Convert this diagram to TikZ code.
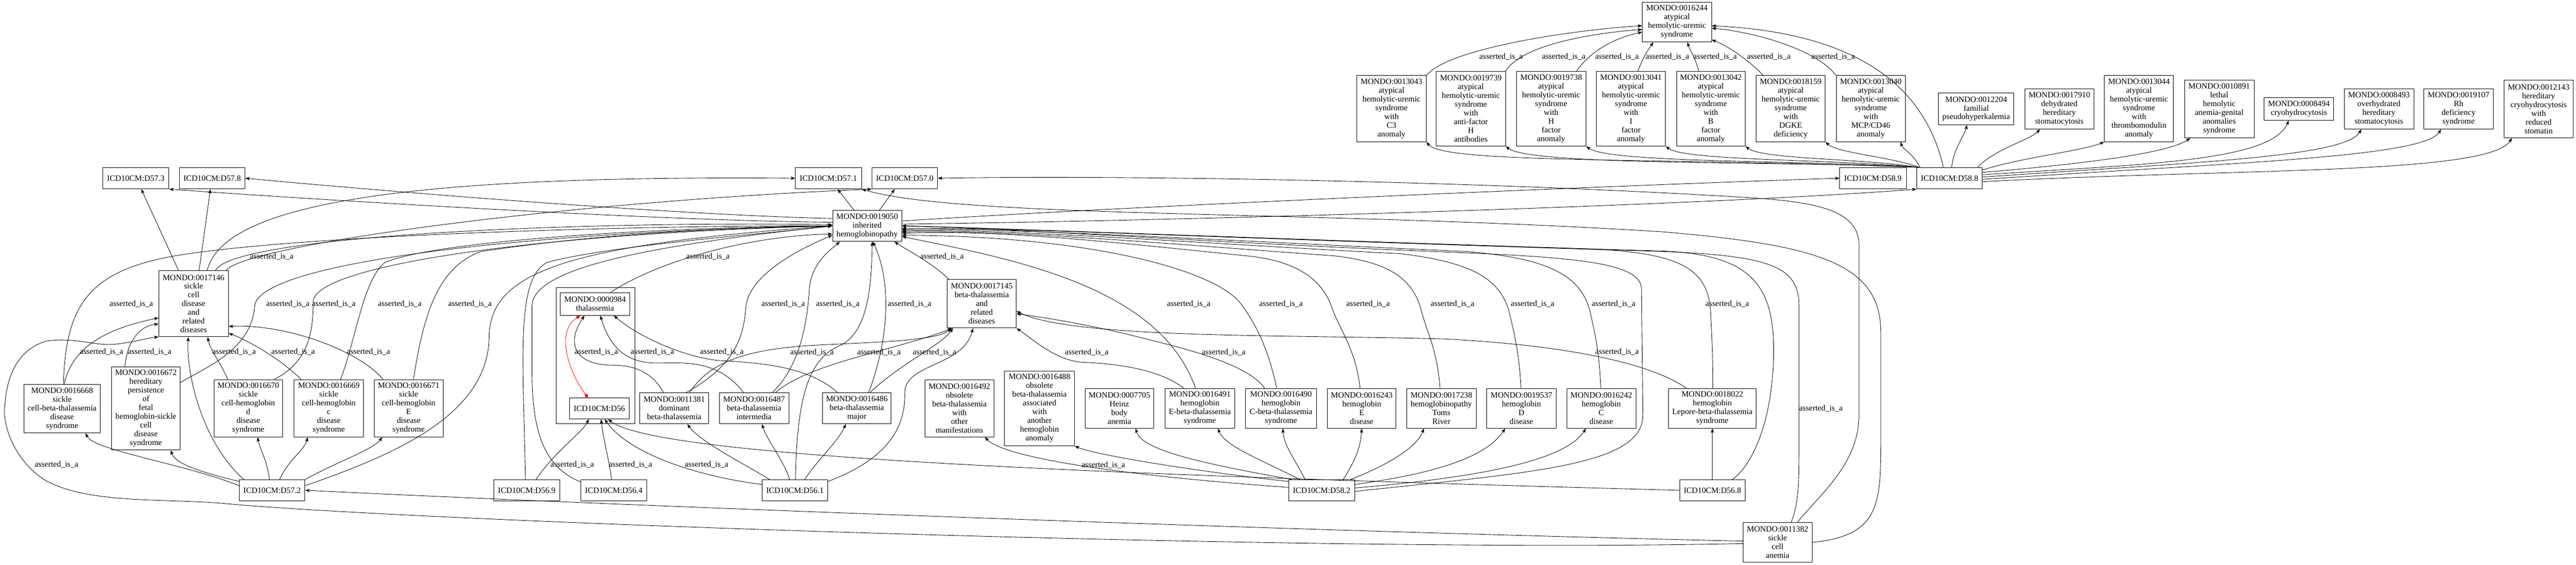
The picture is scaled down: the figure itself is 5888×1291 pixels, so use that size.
\documentclass[tikz,border=0pt]{standalone}
\usepackage{fontspec}
\setmainfont{Liberation Serif}
\usetikzlibrary{arrows.meta,calc}
\newcommand\fs{\fontsize{14}{15}\selectfont}
\newcommand\mynode[6]{\node[nd, minimum width=\fpeval{(#4-#2)*0.75}pt, minimum height=\fpeval{(#5-#3)*0.75}pt] (#1) at ({(#2+#4)/2},{(#3+#5)/2}) {#6};}
\tikzset{
  nd/.style={draw, line width=0.75pt, align=center, inner sep=0pt, font=\fs},
  e/.style={line width=0.75pt, -{Stealth[length=7.5pt,width=5.5pt,inset=1.5pt]}},
  redge/.style={draw=red, line width=0.75pt, {Diamond[length=9pt,width=6pt]}-{Diamond[length=9pt,width=6pt]}},
  lab/.style={font=\fs, inner sep=0pt}
}
\begin{document}
\begin{tikzpicture}[x=0.75pt,y=-0.75pt]
\fill[white] (0,0) rectangle (5888,1291);
\useasboundingbox (0,0) rectangle (5888,1291);
% ---------- nodes ----------
\mynode{m16244}{3754}{5}{3912}{96}{MONDO:0016244\\atypical\\hemolytic-uremic\\syndrome}
\mynode{m13043}{3101}{173}{3260}{324}{MONDO:0013043\\atypical\\hemolytic-uremic\\syndrome\\with\\C3\\anomaly}
\mynode{m19739}{3283}{163}{3441}{334}{MONDO:0019739\\atypical\\hemolytic-uremic\\syndrome\\with\\anti-factor\\H\\antibodies}
\mynode{m19738}{3466}{163}{3625}{334}{MONDO:0019738\\atypical\\hemolytic-uremic\\syndrome\\with\\H\\factor\\anomaly}
\mynode{m13041}{3649}{163}{3807}{334}{MONDO:0013041\\atypical\\hemolytic-uremic\\syndrome\\with\\I\\factor\\anomaly}
\mynode{m13042}{3832}{163}{3989}{334}{MONDO:0013042\\atypical\\hemolytic-uremic\\syndrome\\with\\B\\factor\\anomaly}
\mynode{m18159}{4014}{173}{4172}{324}{MONDO:0018159\\atypical\\hemolytic-uremic\\syndrome\\with\\DGKE\\deficiency}
\mynode{m13040}{4197}{173}{4355}{324}{MONDO:0013040\\atypical\\hemolytic-uremic\\syndrome\\with\\MCP/CD46\\anomaly}
\mynode{m12204}{4431}{213}{4603}{285}{MONDO:0012204\\familial\\pseudohyperkalemia}
\mynode{m17910}{4628}{203}{4786}{295}{MONDO:0017910\\dehydrated\\hereditary\\stomatocytosis}
\mynode{m13044}{4810}{173}{4968}{324}{MONDO:0013044\\atypical\\hemolytic-uremic\\syndrome\\with\\thrombomodulin\\anomaly}
\mynode{m10891}{4993}{183}{5152}{315}{MONDO:0010891\\lethal\\hemolytic\\anemia-genital\\anomalies\\syndrome}
\mynode{m08494}{5175}{223}{5334}{275}{MONDO:0008494\\cryohydrocytosis}
\mynode{m08493}{5358}{203}{5517}{295}{MONDO:0008493\\overhydrated\\hereditary\\stomatocytosis}
\mynode{m19107}{5540}{203}{5699}{295}{MONDO:0019107\\Rh\\deficiency\\syndrome}
\mynode{m12143}{5724}{183}{5881}{315}{MONDO:0012143\\hereditary\\cryohydrocytosis\\with\\reduced\\stomatin}
\mynode{iD589}{4205}{383}{4357}{432}{ICD10CM:D58.9}
\mynode{iD588}{4381}{383}{4531}{432}{ICD10CM:D58.8}
\mynode{iD573}{235}{383}{386}{432}{ICD10CM:D57.3}
\mynode{iD578}{410}{383}{560}{432}{ICD10CM:D57.8}
\mynode{iD571}{1818}{383}{1969}{432}{ICD10CM:D57.1}
\mynode{iD570}{1993}{383}{2143}{432}{ICD10CM:D57.0}
\mynode{m19050}{1903}{481}{2061}{552}{MONDO:0019050\\inherited\\hemoglobinopathy}
\mynode{m17146}{363}{619}{522}{770}{MONDO:0017146\\sickle\\cell\\disease\\and\\related\\diseases}
\mynode{m17145}{2165}{639}{2323}{750}{MONDO:0017145\\beta-thalassemia\\and\\related\\diseases}
\mynode{clus}{1271}{658}{1451}{968}{}
\mynode{m00984}{1281}{669}{1439}{721}{MONDO:0000984\\thalassemia}
\mynode{iD56}{1302}{910}{1438}{958}{ICD10CM:D56}
\mynode{m16668}{55}{879}{229}{990}{MONDO:0016668\\sickle\\cell-beta-thalassemia\\disease\\syndrome}
\mynode{m16672}{255}{839}{412}{1029}{MONDO:0016672\\hereditary\\persistence\\of\\fetal\\hemoglobin-sickle\\cell\\disease\\syndrome}
\mynode{m16670}{489}{868}{646}{999}{MONDO:0016670\\sickle\\cell-hemoglobin\\d\\disease\\syndrome}
\mynode{m16669}{672}{868}{831}{999}{MONDO:0016669\\sickle\\cell-hemoglobin\\c\\disease\\syndrome}
\mynode{m16671}{855}{868}{1013}{999}{MONDO:0016671\\sickle\\cell-hemoglobin\\E\\disease\\syndrome}
\mynode{iD572}{547}{1097}{697}{1145}{ICD10CM:D57.2}
\mynode{iD569}{1129}{1097}{1279}{1145}{ICD10CM:D56.9}
\mynode{iD564}{1328}{1097}{1478}{1145}{ICD10CM:D56.4}
\mynode{m11381}{1462}{898}{1620}{969}{MONDO:0011381\\dominant\\beta-thalassemia}
\mynode{m16487}{1644}{898}{1803}{969}{MONDO:0016487\\beta-thalassemia\\intermedia}
\mynode{m16486}{1880}{898}{2037}{969}{MONDO:0016486\\beta-thalassemia\\major}
\mynode{iD561}{1742}{1097}{1892}{1145}{ICD10CM:D56.1}
\mynode{m16492}{2114}{868}{2272}{999}{MONDO:0016492\\obsolete\\beta-thalassemia\\with\\other\\manifestations}
\mynode{m16488}{2296}{848}{2456}{1019}{MONDO:0016488\\obsolete\\beta-thalassemia\\associated\\with\\another\\hemoglobin\\anomaly}
\mynode{m07705}{2480}{888}{2637}{979}{MONDO:0007705\\Heinz\\body\\anemia}
\mynode{m16491}{2663}{888}{2822}{979}{MONDO:0016491\\hemoglobin\\E-beta-thalassemia\\syndrome}
\mynode{m16490}{2847}{888}{3009}{979}{MONDO:0016490\\hemoglobin\\C-beta-thalassemia\\syndrome}
\mynode{m16243}{3034}{888}{3191}{979}{MONDO:0016243\\hemoglobin\\E\\disease}
\mynode{m17238}{3215}{888}{3374}{979}{MONDO:0017238\\hemoglobinopathy\\Toms\\River}
\mynode{m19537}{3398}{888}{3557}{979}{MONDO:0019537\\hemoglobin\\D\\disease}
\mynode{m16242}{3581}{888}{3739}{979}{MONDO:0016242\\hemoglobin\\C\\disease}
\mynode{m18022}{3814}{888}{4014}{979}{MONDO:0018022\\hemoglobin\\Lepore-beta-thalassemia\\syndrome}
\mynode{iD582}{2946}{1097}{3096}{1145}{ICD10CM:D58.2}
\mynode{iD568}{3839}{1097}{3989}{1145}{ICD10CM:D56.8}
\mynode{m11382}{3984}{1195}{4142}{1285}{MONDO:0011382\\sickle\\cell\\anemia}
% ---------- aHUS -> 16244 ----------
\draw[e] (m13043.north east) .. controls (3310,110) and (3600,68) .. (m16244.186) node[lab] at (3431,130) {asserted\_is\_a};
\draw[e] (m19739.north east) .. controls (3480,100) and (3650,75) .. (m16244.192) node[lab] at (3574,130) {asserted\_is\_a};
\draw[e] ($(m19738.north east)+(-22,0)$) .. controls (3640,110) and (3700,85) .. (m16244.196) node[lab] at (3696,130) {asserted\_is\_a};
\draw[e] ($(m13041.north)+(16,0)$) .. controls (3755,130) and (3770,110) .. ($(m16244.south)+(-54,0)$) node[lab] at (3811,130) {asserted\_is\_a};
\draw[e] ($(m13042.north)+(-28,0)$) .. controls (3875,130) and (3862,115) .. ($(m16244.south)+(24,0)$) node[lab] at (3920,130) {asserted\_is\_a};
\draw[e] ($(m18159.north west)+(17,0)$) .. controls (4000,140) and (3950,105) .. (m16244.-27) node[lab] at (4043,130) {asserted\_is\_a};
\draw[e] (m13040.north west) .. controls (4150,110) and (4000,72) .. (m16244.-10) node[lab] at (4190,130) {asserted\_is\_a};
% ---------- D58.8 -> top nodes ----------
\draw[e] ($(iD588.north)+(-14,0)$) .. controls (4400,200) and (4250,75) .. (m16244.-6);
\draw[e] ($(iD588.north west)+(8,0)$) .. controls (4372,350) and (4348,340) .. ($(m13040.south east)+(-11,0)$);
\draw[e] ($(iD588.north west)+(6,0)$) .. controls (4320,358) and (4200,350) .. (m18159.south east);
\draw[e] ($(iD588.north west)+(4,0)$) .. controls (4260,362) and (4030,365) .. (m13042.south east);
\draw[e] ($(iD588.north west)+(3,0)$) .. controls (4200,364) and (3850,368) .. (m13041.south east);
\draw[e] ($(iD588.north west)+(2,0)$) .. controls (4150,366) and (3680,374) .. (m19738.south east);
\draw[e] ($(iD588.north west)+(1,0)$) .. controls (4100,368) and (3500,380) .. (m19739.south east);
\draw[e] (iD588.north west) .. controls (3800,360) and (3300,375) .. (m13043.south east);
\draw[e] ($(iD588.north)+(5,0)$) .. controls (4465,340) and (4490,310) .. ($(m12204.south)+(-21,0)$);
\draw[e] ($(iD588.north east)+(-11,0)$) .. controls (4560,340) and (4640,320) .. ($(m17910.south)+(-44,0)$);
\draw[e] (iD588.14) .. controls (4620,360) and (4760,345) .. (m13044.south west);
\draw[e] (iD588.10) .. controls (4700,380) and (4950,355) .. ($(m10891.south west)+(14,0)$);
\draw[e] (iD588.6) .. controls (4900,375) and (5190,370) .. ($(m08494.south)+(-23,0)$);
\draw[e] (iD588.2) .. controls (5000,372) and (5360,360) .. ($(m08493.south)+(-40,0)$);
\draw[e] (iD588.-2) .. controls (5100,372) and (5540,360) .. ($(m19107.south)+(-40,0)$);
\draw[e] (iD588.-6) .. controls (5100,385) and (5690,400) .. ($(m12143.south west)+(18,0)$);
% ---------- 19050 -> ICD ----------
\draw[e] ($(m19050.north)+(-30,0)$) -- ($(iD571.south)+(21,0)$);
\draw[e] ($(m19050.north)+(28,0)$) -- ($(iD570.south)+(-23,0)$);
\draw[e] (m19050.168) .. controls (1500,490) and (800,430) .. (iD578.east);
\draw[e] (m19050.174) .. controls (1500,505) and (700,455) .. (iD573.south east);
\draw[e] (m19050.8) .. controls (2600,470) and (3800,420) .. (iD589.west);
\draw[e] (m19050.3) .. controls (2700,505) and (3900,470) .. (iD588.south west);
% ---------- 17146 -> ICD ----------
\draw[e] ($(m17146.north)+(-34.5,0)$) -- ($(iD573.south)+(12.5,0)$);
\draw[e] ($(m17146.north)+(12.5,0)$) -- ($(iD578.south)+(-4,0)$);
\draw[e] ($(m17146.north)+(31,0)$) .. controls (510,470) and (900,400) .. (iD571.west);
\draw[e] ($(m17146.north east)+(-6,0)$) .. controls (560,560) and (1300,460) .. (iD570.south west);
% ---------- 11382 ----------
\draw[e] ($(m11382.north)+(45,0)$) .. controls (4160,1130) and (4249,1060) .. (4249,950) -- (4249,560) .. controls (4249,480) and (4150,462) .. (4000,452) .. controls (3400,415) and (2600,400) .. (iD570.east);
\draw[e] (m11382.east) .. controls (4299,1225) and (4299,1150) .. (4299,1000) -- (4299,760) .. controls (4299,600) and (4150,560) .. (3800,530) .. controls (3000,480) and (2200,500) .. (iD571.south east);
\draw[e] ($(m11382.north)+(31,0)$) .. controls (4112,1150) and (4112,1100) .. (4112,1000) -- (4112,700) .. controls (4112,610) and (4050,585) .. (3800,575) .. controls (2900,548) and (2300,522) .. (m19050.east) node[lab] at (4162,934) {asserted\_is\_a};
\draw[e] (m11382.178) .. controls (3000,1215) and (1500,1160) .. (iD572.east);
\draw[e] (m11382.182) .. controls (3000,1265) and (900,1190) .. (500,1150) .. controls (350,1140) and (200,1150) .. (105,1099) .. controls (40,1060) and (5,980) .. (11,929) .. controls (15,860) and (40,800) .. (105,780) .. controls (170,770) and (220,792) .. (263,787) .. controls (310,782) and (340,772) .. (m17146.south west) node[lab] at (129,1062) {asserted\_is\_a};
% ---------- into 19050 from left/below ----------
\draw[e] ($(m17146.north)+(50,0)$) .. controls (530,540) and (1300,505) .. (m19050.178) node[lab] at (621,586) {asserted\_is\_a};
\draw[e] ($(m00984.north east)+(-44,0)$) .. controls (1500,600) and (1700,540) .. (m19050.193) node[lab] at (1618,586) {asserted\_is\_a};
\draw[e] ($(m17145.north west)+(4,0)$) .. controls (2130,600) and (2070,570) .. (m19050.-30) node[lab] at (2153,586) {asserted\_is\_a};
\draw[e] ($(m16668.north)+(3,0)$) .. controls (150,700) and (200,620) .. (400,585) .. controls (700,535) and (1500,515) .. (m19050.west) node[lab] at (300,695) {asserted\_is\_a};
\draw[e] (m16672.37) .. controls (470,840) and (575,800) .. (582,700) .. controls (590,600) and (1200,530) .. (m19050.west) node[lab] at (658,695) {asserted\_is\_a};
\draw[e] ($(m16670.north east)+(-20,0)$) .. controls (700,830) and (716,770) .. (716,690) .. controls (716,610) and (1200,535) .. (m19050.west) node[lab] at (763,695) {asserted\_is\_a};
\draw[e] ($(m16669.north)+(27,0)$) .. controls (815,770) and (830,640) .. (880,600) .. controls (1000,550) and (1500,520) .. (m19050.west) node[lab] at (914,695) {asserted\_is\_a};
\draw[e] ($(m16671.north)+(11,0)$) .. controls (968,720) and (1000,610) .. (1100,575) .. controls (1400,530) and (1700,520) .. (m19050.west) node[lab] at (1074,695) {asserted\_is\_a};
\draw[e] (iD572.8) .. controls (900,1040) and (1116,950) .. (1118,770) .. controls (1120,620) and (1300,560) .. (m19050.west);
\draw[e] ($(iD569.north)+(-3,0)$) .. controls (1195,800) and (1180,640) .. (1250,600) .. controls (1400,560) and (1750,535) .. (m19050.west);
\draw[e] (iD564.166) .. controls (1250,1070) and (1216,1000) .. (1216,850) -- (1216,700) .. controls (1216,610) and (1500,560) .. (m19050.west);
\draw[e] ($(m11381.north east)+(-52,0)$) .. controls (1690,830) and (1700,760) .. (1705,700) .. controls (1715,620) and (1850,560) .. (m19050.195) node[lab] at (1790,695) {asserted\_is\_a};
\draw[e] ($(m16487.north east)+(-38,0)$) .. controls (1835,830) and (1846,720) .. (1850,660) .. controls (1855,600) and (1900,570) .. (m19050.210) node[lab] at (1915,695) {asserted\_is\_a};
\draw[e] ($(m16486.north)+(27,0)$) .. controls (2030,780) and (2040,650) .. (m19050.290) node[lab] at (2079,695) {asserted\_is\_a};
\draw[e] ($(iD561.north)+(1,0)$) .. controls (1822,900) and (1850,820) .. (1920,790) .. controls (1985,760) and (1992,650) .. (m19050.288);
% ---------- into 19050 from right ----------
\draw[e] ($(m16491.north)+(-10,0)$) .. controls (2650,650) and (2300,590) .. (m19050.-17) node[lab] at (2717,695) {asserted\_is\_a};
\draw[e] ($(m16490.north)+(-10,0)$) .. controls (2900,800) and (2870,740) .. (2840,700) .. controls (2790,620) and (2500,540) .. (m19050.-15) node[lab] at (2928,695) {asserted\_is\_a};
\draw[e] ($(m16243.north)+(-4,0)$) .. controls (3100,800) and (3060,750) .. (3045,705) .. controls (3020,630) and (2950,595) .. (2850,585) .. controls (2600,560) and (2300,524) .. (m19050.-12) node[lab] at (3127,695) {asserted\_is\_a};
\draw[e] ($(m17238.north)+(-3,0)$) .. controls (3285,800) and (3262,760) .. (3250,715) .. controls (3232,640) and (3180,600) .. (3050,585) .. controls (2700,560) and (2300,524) .. (m19050.-10) node[lab] at (3320,695) {asserted\_is\_a};
\draw[e] ($(m19537.north)+(-1,0)$) .. controls (3472,800) and (3460,760) .. (3450,715) .. controls (3430,640) and (3370,600) .. (3200,580) .. controls (2800,560) and (2300,522) .. (m19050.-8) node[lab] at (3503,695) {asserted\_is\_a};
\draw[e] ($(m16242.north)+(-1,0)$) .. controls (3655,800) and (3645,760) .. (3635,715) .. controls (3615,630) and (3540,590) .. (3350,575) .. controls (2900,555) and (2300,520) .. (m19050.-6) node[lab] at (3688,695) {asserted\_is\_a};
\draw[e] ($(m18022.north)+(1,0)$) .. controls (3915,800) and (3912,760) .. (3910,715) .. controls (3905,620) and (3850,580) .. (3650,570) .. controls (3000,550) and (2300,520) .. (m19050.-4) node[lab] at (3948,695) {asserted\_is\_a};
\draw[e] (iD582.-2) .. controls (3500,1080) and (3755,1065) .. (3755,950) -- (3752,660) .. controls (3750,600) and (3600,588) .. (3300,576) .. controls (2800,556) and (2300,522) .. (m19050.east);
\draw[e] ($(iD568.north east)+(-30,0)$) .. controls (4010,1060) and (4054,950) .. (4054,800) .. controls (4054,650) and (4000,582) .. (3800,574) .. controls (3000,550) and (2300,522) .. (m19050.east);
% ---------- into 0000984 ----------
\draw[redge] ($(iD56.north)+(-26,0)$) .. controls (1300,850) and (1270,760) .. ($(m00984.south)+(-34,0)$);
\draw[e] ($(m11381.north west)+(55,0)$) .. controls (1490,850) and (1450,835) .. (1400,835) .. controls (1320,835) and (1290,790) .. ($(m00984.south)+(-24,0)$) node[lab] at (1363,804) {asserted\_is\_a};
\draw[e] ($(m16487.north west)+(56,0)$) .. controls (1640,820) and (1560,830) .. (1500,830) .. controls (1420,830) and (1390,780) .. ($(m00984.south)+(12,0)$) node[lab] at (1491,804) {asserted\_is\_a};
\draw[e] ($(m16486.north west)+(35,0)$) .. controls (1850,840) and (1750,830) .. (1640,824) .. controls (1560,815) and (1460,770) .. ($(m00984.south)+(43,0)$) node[lab] at (1650,804) {asserted\_is\_a};
% ---------- into 17145 ----------
\draw[e] ($(m11381.north east)+(-44,0)$) .. controls (1620,830) and (1700,800) .. (1850,790) .. controls (2000,782) and (2140,780) .. ($(m17145.south west)+(10,0)$) node[lab] at (1856,805) {asserted\_is\_a};
\draw[e] ($(m16487.north east)+(-31,0)$) .. controls (1850,830) and (2050,800) .. ($(m17145.south west)+(12,0)$) node[lab] at (2009,805) {asserted\_is\_a};
\draw[e] ($(m16486.north)+(30,0)$) .. controls (2060,830) and (2150,790) .. ($(m17145.south west)+(14,0)$) node[lab] at (2136,805) {asserted\_is\_a};
\draw[e] ($(m16491.north west)+(43,0)$) .. controls (2650,845) and (2560,832) .. (2470,828) .. controls (2410,822) and (2360,775) .. (m17145.south east) node[lab] at (2484,805) {asserted\_is\_a};
\draw[e] ($(m16490.north west)+(44,0)$) .. controls (2850,830) and (2700,795) .. (2600,770) .. controls (2480,740) and (2380,725) .. (m17145.-16) node[lab] at (2797,805) {asserted\_is\_a};
\draw[e] ($(m18022.north west)+(41,0)$) .. controls (3780,835) and (3600,790) .. (3300,775) .. controls (2950,765) and (2450,775) .. (m17145.-12) node[lab] at (3696,804) {asserted\_is\_a};
% ---------- into 17146 ----------
\draw[e] ($(m16668.north)+(5,0)$) .. controls (165,790) and (250,750) .. (m17146.202) node[lab] at (232,804) {asserted\_is\_a};
\draw[e] ($(m16672.north)+(-48,0)$) .. controls (290,780) and (320,745) .. (m17146.210) node[lab] at (342,804) {asserted\_is\_a};
\draw[e] ($(m16670.north west)+(32,0)$) .. controls (505,830) and (480,800) .. (m17146.293) node[lab] at (535,804) {asserted\_is\_a};
\draw[e] ($(m16669.north west)+(17,0)$) .. controls (640,820) and (570,780) .. (m17146.-40) node[lab] at (670,804) {asserted\_is\_a};
\draw[e] ($(m16671.north west)+(21,0)$) .. controls (820,800) and (650,740) .. (m17146.-33) node[lab] at (842,804) {asserted\_is\_a};
% ---------- D57.2 ----------
\draw[e] (iD572.172) .. controls (420,1060) and (215,1030) .. ($(m16668.south east)+(-34,0)$);
\draw[e] (iD572.165) .. controls (460,1080) and (400,1060) .. ($(m16672.south east)+(-22,0)$);
\draw[e] ($(iD572.north west)+(11,0)$) .. controls (460,1010) and (425,850) .. ($(m17146.south)+(-12,0)$);
\draw[e] ($(iD572.north)+(-6,0)$) .. controls (610,1050) and (595,1030) .. ($(m16670.south)+(21,0)$);
\draw[e] ($(iD572.north)+(17,0)$) .. controls (660,1050) and (695,1030) .. ($(m16669.south)+(-48,0)$);
\draw[e] (iD572.north east) .. controls (760,1060) and (850,1030) .. ($(m16671.south)+(-60,0)$);
% ---------- D56 family ----------
\draw[e] ($(iD569.north)+(21,0)$) .. controls (1270,1030) and (1330,990) .. ($(iD56.south)+(-24,0)$) node[lab] at (1308,1062) {asserted\_is\_a};
\draw[e] ($(iD564.north)+(-5,0)$) .. controls (1392,1050) and (1378,1000) .. ($(iD56.south)+(4,0)$) node[lab] at (1441,1062) {asserted\_is\_a};
\draw[e] (iD561.170) .. controls (1600,1090) and (1440,1040) .. ($(iD56.south)+(12,0)$) node[lab] at (1615,1062) {asserted\_is\_a};
\draw[e] (iD568.west) .. controls (2500,1085) and (1500,1045) .. ($(iD56.south)+(20,0)$) node[lab] at (2522,1063) {asserted\_is\_a};
% ---------- D56.1 ----------
\draw[e] ($(iD561.north west)+(18,0)$) .. controls (1700,1060) and (1600,1010) .. ($(m11381.south)+(30,0)$);
\draw[e] ($(iD561.north)+(-12,0)$) .. controls (1790,1050) and (1755,1010) .. ($(m16487.south)+(18,0)$);
\draw[e] ($(iD561.north)+(22,0)$) .. controls (1870,1050) and (1915,1010) .. ($(m16486.south)+(-25,0)$);
\draw[e] (iD561.15) .. controls (2000,1060) and (2070,1000) .. (2068,900) .. controls (2066,830) and (2200,840) .. ($(m17145.south)+(-20,0)$);
% ---------- D58.2 ----------
\draw[e] (iD582.175) .. controls (2600,1090) and (2300,1050) .. ($(m16492.south)+(58,0)$);
\draw[e] (iD582.165) .. controls (2750,1080) and (2500,1040) .. (m16488.south east);
\draw[e] ($(iD582.north west)+(8,0)$) .. controls (2750,1060) and (2610,1030) .. ($(m07705.south)+(37,0)$);
\draw[e] ($(iD582.north west)+(26,0)$) .. controls (2880,1050) and (2800,1020) .. ($(m16491.south)+(41,0)$);
\draw[e] ($(iD582.north)+(-38,0)$) .. controls (2960,1050) and (2935,1020) .. ($(m16490.south)+(4,0)$);
\draw[e] ($(iD582.north)+(49,0)$) .. controls (3100,1050) and (3110,1020) .. (m16243.south);
\draw[e] ($(iD582.north east)+(-10,0)$) .. controls (3180,1060) and (3240,1020) .. ($(m17238.south)+(-40,0)$);
\draw[e] (iD582.10) .. controls (3300,1080) and (3400,1040) .. ($(m19537.south)+(-37,0)$);
\draw[e] (iD582.4) .. controls (3400,1090) and (3580,1050) .. ($(m16242.south)+(-35,0)$);
% ---------- D56.8 ----------
\draw[e] (iD568.north) -- (m18022.south);
\end{tikzpicture}
\end{document}
